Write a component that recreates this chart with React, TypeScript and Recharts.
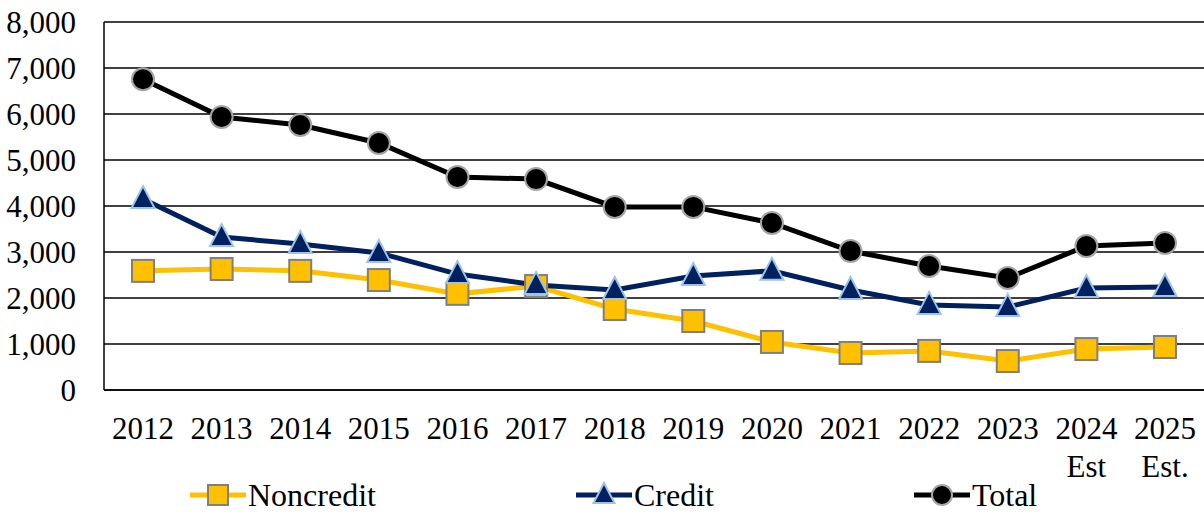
import { LineChart, Line, XAxis, YAxis, CartesianGrid, Legend } from 'recharts';

const years = ['2012', '2013', '2014', '2015', '2016', '2017', '2018', '2019', '2020', '2021', '2022', '2023', '2024', '2025'];
const yearNotes = ['', '', '', '', '', '', '', '', '', '', '', '', 'Est', 'Est.'];
const noncredit = [2590, 2630, 2590, 2390, 2090, 2260, 1760, 1500, 1045, 805, 850, 630, 890, 935];
const credit = [4150, 3325, 3175, 2980, 2520, 2285, 2175, 2480, 2590, 2175, 1850, 1805, 2215, 2240];
const total = [6755, 5935, 5760, 5370, 4630, 4585, 3980, 3980, 3630, 3020, 2695, 2435, 3130, 3195];
const yTicks = [0, 1000, 2000, 3000, 4000, 5000, 6000, 7000, 8000];

const data = years.map((year, i) => ({
  year,
  note: yearNotes[i],
  noncredit: noncredit[i],
  credit: credit[i],
  total: total[i],
}));

const FONT = '"Liberation Serif", "Times New Roman", serif';

const SquareDot = ({ cx, cy, s = 11 }: any) => (
  <rect x={cx - s} y={cy - s} width={s * 2} height={s * 2} fill="#FFC000" stroke="#7F7F7F" strokeWidth={2} />
);

const TriangleDot = ({ cx, cy, s = 11 }: any) => (
  <polygon
    points={`${cx},${cy - s - 2} ${cx - s - 0.5},${cy + s - 2} ${cx + s + 0.5},${cy + s - 2}`}
    fill="#002060"
    stroke="#9DC3E6"
    strokeWidth={2}
  />
);

const CircleDot = ({ cx, cy, s = 11 }: any) => (
  <circle cx={cx} cy={cy} r={s} fill="#000" stroke="#A6A6A6" strokeWidth={2} />
);

const YearTick = ({ x, y, payload }: any) => {
  const note = yearNotes[payload.index];
  return (
    <text x={x} y={y} textAnchor="middle" fontSize={31} fontFamily={FONT} fill="#000">
      <tspan x={x} dy={47}>{payload.value}</tspan>
      {note && <tspan x={x} dy={38}>{note}</tspan>}
    </text>
  );
};

const legendItems = [
  { name: 'Noncredit', color: '#FFC000', Dot: SquareDot },
  { name: 'Credit', color: '#002060', Dot: TriangleDot },
  { name: 'Total', color: '#000', Dot: CircleDot },
];

const LegendContent = () => (
  <div style={{ display: 'flex', paddingLeft: 190, gap: 200, alignItems: 'center', height: 34 }}>
    {legendItems.map(({ name, color, Dot }) => (
      <div key={name} style={{ display: 'flex', alignItems: 'center', height: 30 }}>
        <svg width={56} height={30}>
          <line x1={0} y1={15} x2={56} y2={15} stroke={color} strokeWidth={5} strokeLinecap="round" />
          <Dot cx={28} cy={15} s={10} />
        </svg>
        <span style={{ fontFamily: FONT, fontSize: 32, color: '#000', marginLeft: 2, lineHeight: '30px' }}>{name}</span>
      </div>
    ))}
  </div>
);

export default function App() {
  return (
    <div style={{ position: 'absolute', left: 0, top: 0, background: '#fff' }}>
      <LineChart width={1204} height={514} data={data} margin={{ top: 22, right: 0, left: 0, bottom: 0 }}>
        <CartesianGrid horizontal vertical={false} stroke="#000" strokeWidth={1.5} />
        <XAxis
          dataKey="year"
          interval={0}
          padding={{ left: 39, right: 39 }}
          axisLine={{ stroke: '#000', strokeWidth: 1.5 }}
          tickLine={false}
          tickSize={0}
          height={88}
          tick={<YearTick />}
        />
        <YAxis
          domain={[0, 8000]}
          ticks={yTicks}
          width={104}
          axisLine={{ stroke: '#000', strokeWidth: 1.5 }}
          tickLine={false}
          tickSize={0}
          tickMargin={28}
          tick={{ fontSize: 31, fontFamily: FONT, fill: '#000' }}
          tickFormatter={(v: number) => v.toLocaleString('en-US')}
        />
        <Legend
          verticalAlign="bottom"
          wrapperStyle={{ left: 0, bottom: 0, width: 1204, height: 36 }}
          content={<LegendContent />}
        />
        <Line
          dataKey="noncredit"
          name="Noncredit"
          stroke="#FFC000"
          strokeWidth={5}
          dot={(p: any) => <SquareDot key={`nc-${p.index}`} cx={p.cx} cy={p.cy} />}
          isAnimationActive={false}
        />
        <Line
          dataKey="credit"
          name="Credit"
          stroke="#002060"
          strokeWidth={5}
          dot={(p: any) => <TriangleDot key={`cr-${p.index}`} cx={p.cx} cy={p.cy} />}
          isAnimationActive={false}
        />
        <Line
          dataKey="total"
          name="Total"
          stroke="#000"
          strokeWidth={5}
          dot={(p: any) => <CircleDot key={`tt-${p.index}`} cx={p.cx} cy={p.cy} />}
          isAnimationActive={false}
        />
      </LineChart>
    </div>
  );
}
